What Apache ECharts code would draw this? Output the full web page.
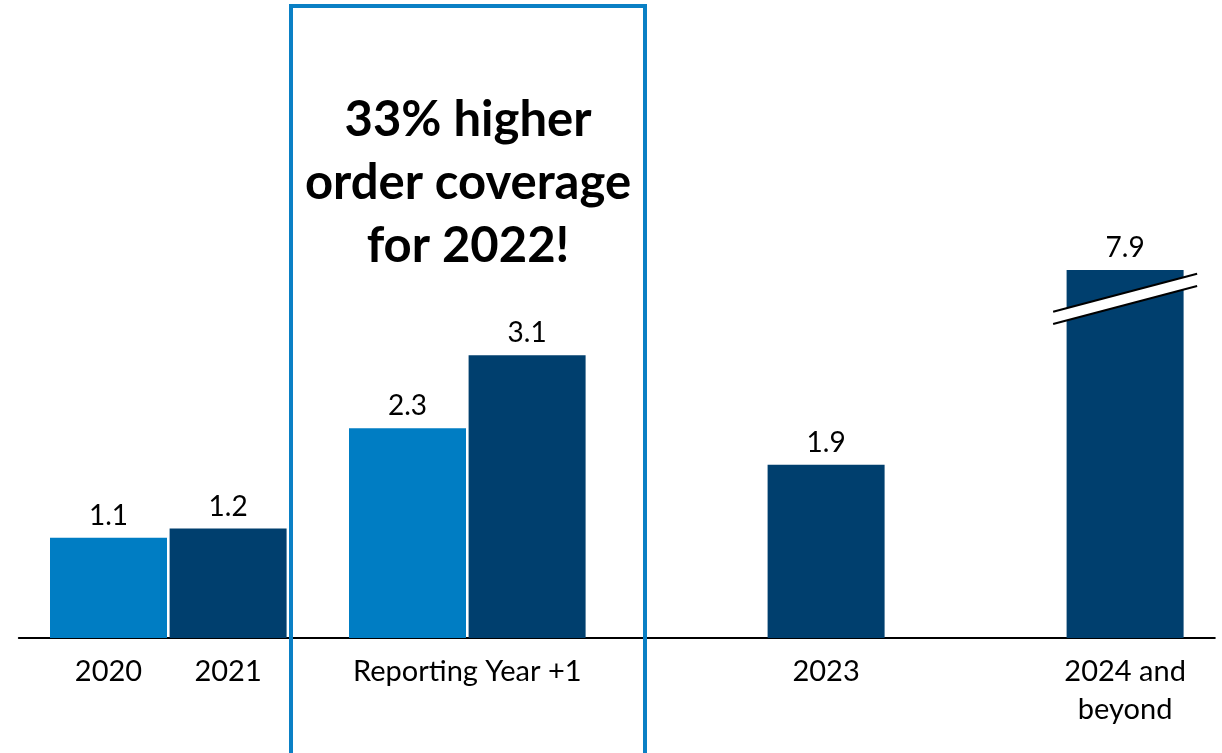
<!DOCTYPE html>
<html><head><meta charset="utf-8">
<script src="https://cdn.jsdelivr.net/npm/echarts@6/dist/echarts.min.js"></script>
<style>html,body{margin:0;padding:0;background:#fff}#c{width:1222px;height:753px}</style>
</head><body><div id="c"></div>
<script>
// ---- data ----
const slotCount = 20;                       // category slots along the x axis
const labelSlots = [1, 3, 7, 13, 18];
const labelTexts = ['2020', '2021', 'Reporting Year +1', '2023', '2024 and\nbeyond'];
const barSlots  = [1, 3, 6, 8, 13, 18];
const barValues = [1.1, 1.2, 2.3, 3.1, 1.9, 7.9];
const barShade  = ['light', 'dark', 'light', 'dark', 'dark', 'dark'];
const breakStart = 3.65, breakEnd = 7.65;   // broken value range on the last bar
const headline = '33% higher\norder coverage\nfor 2022!';

// ---- styles ----
const COLORS = { light: '#007dc3', dark: '#003f6e' };
const FONT = 'Lato, "Open Sans", sans-serif';

const categories = Array.from({ length: slotCount }, (_, i) => {
  const k = labelSlots.indexOf(i);
  return k >= 0 ? labelTexts[k] : '';
});
const barData = Array.from({ length: slotCount }, (_, i) => {
  const k = barSlots.indexOf(i);
  if (k < 0) return null;
  return { value: barValues[k], itemStyle: { color: COLORS[barShade[k]] } };
});
const brokenIdx = barValues.indexOf(Math.max(...barValues));

const chart = echarts.init(document.getElementById('c'), null, { renderer: 'canvas' });
chart.setOption({
  animation: false,
  backgroundColor: '#fff',
  grid: { left: 18.8, width: 1196, top: 270, bottom: 115, containLabel: false },
  xAxis: {
    type: 'category',
    data: categories,
    axisTick: { show: false },
    axisLine: { lineStyle: { color: '#000', width: 2 } },
    axisLabel: { interval: 0, fontSize: 29, color: '#000', fontFamily: FONT, lineHeight: 38, margin: 15 }
  },
  yAxis: {
    type: 'value', min: 0, max: 7.9, show: false,
    splitLine: { show: false },
    breaks: [{ start: breakStart, end: breakEnd, gap: '3.3%' }],
    breakArea: { show: false }
  },
  series: [
    {
      type: 'bar',
      data: barData,
      barWidth: 117,
      label: {
        show: true, position: 'top', distance: 8, fontSize: 28, color: '#000', fontFamily: FONT,
        formatter: p => p.value == null ? '' : Number(p.value).toFixed(1)
      },
      z: 2
    },
    {
      type: 'custom',
      data: [[barSlots[brokenIdx], barValues[brokenIdx]]],
      z: 5,
      renderItem: (params, api) => {
        const x = api.value(0);
        const lo = api.coord([x, breakStart]);
        const hi = api.coord([x, breakEnd]);
        const cx = lo[0], ym = (lo[1] + hi[1]) / 2, g = Math.abs(lo[1] - hi[1]) / 2;
        const hw = 72, dy = 19;
        const up = [[cx - hw, ym + dy - g], [cx + hw, ym - dy - g]];
        const dn = [[cx - hw, ym + dy + g], [cx + hw, ym - dy + g]];
        return {
          type: 'group',
          children: [
            { type: 'polygon', shape: { points: [up[0], up[1], dn[1], dn[0]] }, style: { fill: '#fff' } },
            { type: 'line', shape: { x1: up[0][0], y1: up[0][1], x2: up[1][0], y2: up[1][1] }, style: { stroke: '#000', lineWidth: 2 } },
            { type: 'line', shape: { x1: dn[0][0], y1: dn[0][1], x2: dn[1][0], y2: dn[1][1] }, style: { stroke: '#000', lineWidth: 2 } }
          ]
        };
      }
    }
  ],
  graphic: [
    {
      type: 'rect', z: 10,
      shape: { x: 291, y: 6, width: 354, height: 780 },
      style: { fill: 'none', stroke: '#0a80c5', lineWidth: 4 }
    },
    {
      type: 'text', z: 10, x: 468, y: 89,
      style: {
        text: headline, textAlign: 'center', textVerticalAlign: 'top',
        font: 'bold 49px ' + FONT, lineHeight: 63, fill: '#000'
      }
    }
  ]
});
</script>
</body></html>
